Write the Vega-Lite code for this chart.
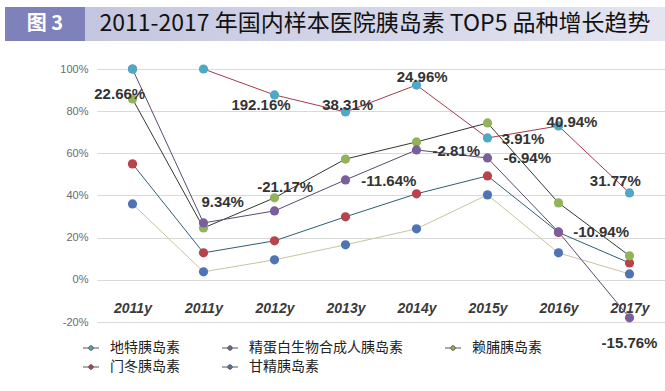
{
  "$schema": "https://vega.github.io/schema/vega-lite/v6.json",
  "padding": {"left": 5, "top": 7, "right": 0, "bottom": 0},
  "background": "white",
  "spacing": 22,
  "resolve": {"scale": {"fill": "independent", "stroke": "independent"}, "legend": {"fill": "independent", "stroke": "independent"}},
  "config": {"view": {"stroke": null}},
  "datasets": {
    "points": [
      {"series": "门冬胰岛素", "idx": 0, "v": 0.55},
      {"series": "门冬胰岛素", "idx": 1, "v": 0.128},
      {"series": "门冬胰岛素", "idx": 2, "v": 0.185},
      {"series": "门冬胰岛素", "idx": 3, "v": 0.299},
      {"series": "门冬胰岛素", "idx": 4, "v": 0.408},
      {"series": "门冬胰岛素", "idx": 5, "v": 0.493},
      {"series": "门冬胰岛素", "idx": 6, "v": 0.225},
      {"series": "门冬胰岛素", "idx": 7, "v": 0.08},
      {"series": "甘精胰岛素", "idx": 0, "v": 0.36},
      {"series": "甘精胰岛素", "idx": 1, "v": 0.038},
      {"series": "甘精胰岛素", "idx": 2, "v": 0.095},
      {"series": "甘精胰岛素", "idx": 3, "v": 0.166},
      {"series": "甘精胰岛素", "idx": 4, "v": 0.242},
      {"series": "甘精胰岛素", "idx": 5, "v": 0.403},
      {"series": "甘精胰岛素", "idx": 6, "v": 0.128},
      {"series": "甘精胰岛素", "idx": 7, "v": 0.028},
      {"series": "赖脯胰岛素", "idx": 0, "v": 0.858},
      {"series": "赖脯胰岛素", "idx": 1, "v": 0.246},
      {"series": "赖脯胰岛素", "idx": 2, "v": 0.389},
      {"series": "赖脯胰岛素", "idx": 3, "v": 0.573},
      {"series": "赖脯胰岛素", "idx": 4, "v": 0.654},
      {"series": "赖脯胰岛素", "idx": 5, "v": 0.744},
      {"series": "赖脯胰岛素", "idx": 6, "v": 0.365},
      {"series": "赖脯胰岛素", "idx": 7, "v": 0.114},
      {"series": "精蛋白生物合成人胰岛素", "idx": 0, "v": 1.0},
      {"series": "精蛋白生物合成人胰岛素", "idx": 1, "v": 0.27},
      {"series": "精蛋白生物合成人胰岛素", "idx": 2, "v": 0.327},
      {"series": "精蛋白生物合成人胰岛素", "idx": 3, "v": 0.474},
      {"series": "精蛋白生物合成人胰岛素", "idx": 4, "v": 0.616},
      {"series": "精蛋白生物合成人胰岛素", "idx": 5, "v": 0.578},
      {"series": "精蛋白生物合成人胰岛素", "idx": 6, "v": 0.227},
      {"series": "精蛋白生物合成人胰岛素", "idx": 7, "v": -0.18},
      {"series": "地特胰岛素", "idx": 0, "v": 1.0},
      {"series": "地特胰岛素", "idx": 1, "v": 1.0},
      {"series": "地特胰岛素", "idx": 2, "v": 0.877},
      {"series": "地特胰岛素", "idx": 3, "v": 0.796},
      {"series": "地特胰岛素", "idx": 4, "v": 0.924},
      {"series": "地特胰岛素", "idx": 5, "v": 0.673},
      {"series": "地特胰岛素", "idx": 6, "v": 0.73},
      {"series": "地特胰岛素", "idx": 7, "v": 0.412}
    ],
    "labels": [
      {"label": "22.66%", "idx": -0.18, "v": 0.88},
      {"label": "9.34%", "idx": 1.27, "v": 0.37},
      {"label": "192.16%", "idx": 1.81, "v": 0.83},
      {"label": "-21.17%", "idx": 2.15, "v": 0.44},
      {"label": "38.31%", "idx": 3.03, "v": 0.83},
      {"label": "-11.64%", "idx": 3.61, "v": 0.47},
      {"label": "24.96%", "idx": 4.08, "v": 0.96},
      {"label": "-2.81%", "idx": 4.56, "v": 0.61},
      {"label": "3.91%", "idx": 5.5, "v": 0.67},
      {"label": "-6.94%", "idx": 5.56, "v": 0.58},
      {"label": "40.94%", "idx": 6.19, "v": 0.75},
      {"label": "31.77%", "idx": 6.8, "v": 0.47},
      {"label": "-10.94%", "idx": 6.6, "v": 0.227},
      {"label": "-15.76%", "idx": 7.0, "v": -0.3}
    ]
  },
  "vconcat": [
    {
      "spacing": 0,
      "hconcat": [
        {
          "width": 80,
          "height": 34,
          "view": {"fill": "#7f82ba", "stroke": null},
          "data": {"values": [{"t": "图 3"}]},
          "mark": {"type": "text", "font": "Noto Sans CJK SC", "fontSize": 20, "fontWeight": "bold", "color": "#ffffff"},
          "encoding": {"text": {"field": "t"}}
        },
        {
          "width": 580,
          "height": 34,
          "view": {
            "fill": {"gradient": "linear", "x1": 0, "y1": 0, "x2": 1, "y2": 0, "stops": [{"offset": 0, "color": "#c4c6df"}, {"offset": 1, "color": "#e4e5f1"}]},
            "stroke": null
          },
          "data": {"values": [{"t": "2011-2017 年国内样本医院胰岛素 TOP5 品种增长趋势"}]},
          "mark": {"type": "text", "font": "Noto Sans CJK SC", "fontSize": 23, "color": "#111111"},
          "encoding": {"text": {"field": "t"}}
        }
      ]
    },
    {
      "spacing": 0,
      "resolve": {"scale": {"fill": "independent", "stroke": "independent"}, "legend": {"fill": "independent", "stroke": "independent"}},
      "hconcat": [
        {
          "width": 1,
          "height": 1,
          "view": {"fill": "#ffffff", "stroke": null},
          "data": {"values": []},
          "mark": "text",
          "encoding": {}
        },
        {
          "width": 568,
          "height": 253,
          "encoding": {
            "x": {
              "field": "idx",
              "type": "quantitative",
              "scale": {"domain": [-0.5, 7.5], "nice": false, "zero": false},
              "axis": {
                "values": [0, 1, 2, 3, 4, 5, 6, 7],
                "labelExpr": "['2011y','2011y','2012y','2013y','2014y','2015y','2016y','2017y'][datum.value]",
                "title": null,
                "grid": false,
                "domain": false,
                "ticks": false,
                "labelPadding": -21,
                "labelFlush": false,
                "labelOverlap": false,
                "labelAngle": 0,
                "labelFont": "Liberation Sans",
                "labelFontStyle": "italic",
                "labelFontWeight": "bold",
                "labelFontSize": 14,
                "labelColor": "#3a3a3a"
              }
            },
            "y": {
              "field": "v",
              "type": "quantitative",
              "scale": {"domain": [-0.2, 1.0], "nice": false, "zero": false},
              "axis": {
                "values": [-0.2, 0, 0.2, 0.4, 0.6, 0.8, 1.0],
                "labelExpr": "replace(format(datum.value, '.0%'), '−', '-')",
                "grid": true,
                "gridColor": "#d9d9d9",
                "gridWidth": 1,
                "domain": false,
                "ticks": false,
                "labelPadding": 9,
                "labelFont": "Liberation Sans Narrow, Liberation Sans",
                "labelFontSize": 11,
                "labelColor": "#6b6b6b",
                "title": " ",
                "titleX": -91,
                "titleY": 0,
                "titleAngle": 0,
                "titleAlign": "left",
                "titleBaseline": "middle",
                "titleFontSize": 11
              }
            }
          },
          "layer": [
            {
              "data": {"name": "points"},
              "transform": [{"filter": "!(datum.series === '地特胰岛素' && datum.idx === 0)"}],
              "mark": {"type": "line", "strokeWidth": 1},
              "encoding": {
                "stroke": {
                  "field": "series",
                  "type": "nominal",
                  "scale": {
                    "domain": ["甘精胰岛素", "门冬胰岛素", "赖脯胰岛素", "精蛋白生物合成人胰岛素", "地特胰岛素"],
                    "range": ["#c9c49c", "#2e5e72", "#2f3a2c", "#5a4a6e", "#a33a4e"]
                  },
                  "legend": null
                }
              }
            },
            {
              "data": {"name": "points"},
              "mark": {"type": "point", "filled": true, "size": 85, "opacity": 1},
              "encoding": {
                "fill": {
                  "field": "series",
                  "type": "nominal",
                  "scale": {
                    "domain": ["地特胰岛素", "精蛋白生物合成人胰岛素", "赖脯胰岛素", "门冬胰岛素", "甘精胰岛素"],
                    "range": ["#4fa8c4", "#7b5e9c", "#93b35a", "#b8434a", "#4f74b4"]
                  },
                  "legend": {
                    "title": null,
                    "orient": "none",
                    "direction": "horizontal",
                    "legendX": -13,
                    "legendY": 272,
                    "columns": 3,
                    "padding": 0,
                    "symbolType": "M-1.6,0L-0.45,0M0.45,0L1.6,0M-0.45,0A0.45,0.45,0,1,1,0.45,0A0.45,0.45,0,1,1,-0.45,0Z",
                    "symbolSize": 100,
                    "symbolStrokeWidth": 1,
                    "symbolStrokeColor": "#555555",
                    "labelFont": "Noto Sans CJK SC",
                    "labelFontSize": 14,
                    "labelColor": "#222222",
                    "labelOffset": 12,
                    "labelLimit": 400,
                    "columnPadding": 40,
                    "rowPadding": 5,
                    "encode": {
                      "symbols": {
                        "stroke": {"value": {"expr": "{'地特胰岛素': '#a33a4e', '精蛋白生物合成人胰岛素': '#5a4a6e', '赖脯胰岛素': '#2f3a2c', '门冬胰岛素': '#2e5e72', '甘精胰岛素': '#c9c49c'}[datum.value]"}},
                        "strokeWidth": {"value": 1}
                      }
                    }
                  }
                }
              }
            },
            {
              "data": {"name": "labels"},
              "mark": {"type": "text", "font": "Liberation Sans", "fontWeight": "bold", "fontSize": 15, "color": "#333333", "align": "center", "baseline": "middle"},
              "encoding": {"text": {"field": "label"}}
            }
          ]
        }
      ]
    }
  ]
}
